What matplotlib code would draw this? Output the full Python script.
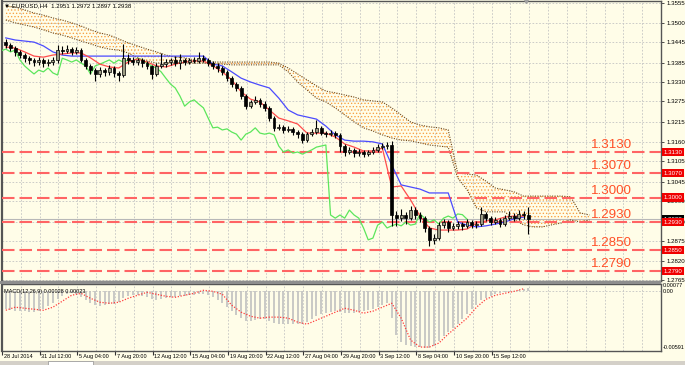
import numpy as np
import matplotlib
matplotlib.use('Agg')
import matplotlib.pyplot as plt
from matplotlib.patches import Rectangle
import matplotlib.transforms as mtrans

plt.rcParams['font.family'] = ['Liberation Sans', 'DejaVu Sans']
plt.rcParams['hatch.linewidth'] = 0.55

# ---------------- data (one candle = 8 hours, EURUSD) ----------------
opens = [1.3445, 1.3436, 1.3427, 1.3416, 1.3407, 1.3398, 1.3393, 1.3387, 1.3393, 1.3384,
         1.3387, 1.3393, 1.3421, 1.3419, 1.3424, 1.3416, 1.3421, 1.3393, 1.3376, 1.3364,
         1.3353, 1.3364, 1.3359, 1.3370, 1.3356, 1.3350, 1.3398, 1.3393, 1.3387, 1.3393,
         1.3384, 1.3376, 1.3353, 1.3376, 1.3381, 1.3387, 1.3393, 1.3384, 1.3393, 1.3387,
         1.3393, 1.3390, 1.3398, 1.3393, 1.3384, 1.3376, 1.3370, 1.3359, 1.3341, 1.3324,
         1.3313, 1.3290, 1.3261, 1.3273, 1.3279, 1.3267, 1.3256, 1.3227, 1.3199, 1.3201,
         1.3193, 1.3196, 1.3187, 1.3181, 1.3164, 1.3181, 1.3187, 1.3199, 1.3184, 1.3181,
         1.3184, 1.3179, 1.3147, 1.3130, 1.3136, 1.3127, 1.3130, 1.3124, 1.3130, 1.3136,
         1.3144, 1.3147, 1.3150, 1.2950, 1.2941, 1.2950, 1.2941, 1.2964, 1.2950, 1.2941,
         1.2913, 1.2879, 1.2884, 1.2921, 1.2930, 1.2913, 1.2919, 1.2924, 1.2919, 1.2930,
         1.2921, 1.2924, 1.2953, 1.2941, 1.2930, 1.2936, 1.2924, 1.2941, 1.2947, 1.2941,
         1.2953, 1.2951]
highs = [1.3452, 1.3441, 1.3432, 1.3422, 1.3413, 1.3405, 1.3400, 1.3402, 1.3398, 1.3395,
         1.3401, 1.3435, 1.3432, 1.3436, 1.3430, 1.3431, 1.3426, 1.3399, 1.3382, 1.3370,
         1.3372, 1.3370, 1.3378, 1.3375, 1.3362, 1.3438, 1.3410, 1.3402, 1.3400, 1.3398,
         1.3390, 1.3380, 1.3384, 1.3412, 1.3396, 1.3400, 1.3404, 1.3410, 1.3400, 1.3399,
         1.3401, 1.3415, 1.3406, 1.3398, 1.3390, 1.3383, 1.3376, 1.3365, 1.3347, 1.3330,
         1.3318, 1.3295, 1.3280, 1.3290, 1.3285, 1.3275, 1.3262, 1.3232, 1.3210, 1.3208,
         1.3205, 1.3202, 1.3192, 1.3186, 1.3188, 1.3195, 1.3222, 1.3204, 1.3190, 1.3192,
         1.3190, 1.3183, 1.3152, 1.3145, 1.3142, 1.3138, 1.3136, 1.3137, 1.3144, 1.3152,
         1.3155, 1.3160, 1.3162, 1.2962, 1.2966, 1.2958, 1.2975, 1.2972, 1.2958, 1.2946,
         1.2918, 1.2896, 1.2930, 1.2940, 1.2936, 1.2928, 1.2932, 1.2930, 1.2938, 1.2936,
         1.2932, 1.2972, 1.2960, 1.2946, 1.2944, 1.2942, 1.2950, 1.2962, 1.2955, 1.2965,
         1.2962, 1.2972]
lows = [1.3428, 1.3418, 1.3405, 1.3398, 1.3388, 1.3382, 1.3376, 1.3380, 1.3373, 1.3376,
        1.3378, 1.3385, 1.3410, 1.3412, 1.3408, 1.3410, 1.3386, 1.3367, 1.3352, 1.3334,
        1.3345, 1.3348, 1.3350, 1.3344, 1.3333, 1.3345, 1.3382, 1.3378, 1.3380, 1.3374,
        1.3366, 1.3340, 1.3348, 1.3370, 1.3372, 1.3380, 1.3376, 1.3366, 1.3380, 1.3381,
        1.3383, 1.3385, 1.3386, 1.3376, 1.3368, 1.3360, 1.3350, 1.3332, 1.3316, 1.3304,
        1.3282, 1.3252, 1.3255, 1.3268, 1.3260, 1.3246, 1.3218, 1.3190, 1.3192, 1.3185,
        1.3186, 1.3180, 1.3170, 1.3156, 1.3160, 1.3176, 1.3182, 1.3178, 1.3174, 1.3176,
        1.3170, 1.3130, 1.3118, 1.3124, 1.3116, 1.3120, 1.3115, 1.3118, 1.3125, 1.3130,
        1.3138, 1.3139, 1.2920, 1.2918, 1.2932, 1.2925, 1.2935, 1.2940, 1.2930, 1.2902,
        1.2862, 1.2868, 1.2878, 1.2912, 1.2902, 1.2906, 1.2910, 1.2908, 1.2912, 1.2912,
        1.2914, 1.2918, 1.2932, 1.2922, 1.2925, 1.2916, 1.2918, 1.2935, 1.2933, 1.2935,
        1.2940, 1.2897]
closes = [1.3436, 1.3427, 1.3416, 1.3407, 1.3398, 1.3393, 1.3387, 1.3393, 1.3384, 1.3387,
          1.3393, 1.3421, 1.3419, 1.3424, 1.3416, 1.3421, 1.3393, 1.3376, 1.3364, 1.3353,
          1.3364, 1.3359, 1.3370, 1.3356, 1.3350, 1.3398, 1.3393, 1.3387, 1.3393, 1.3384,
          1.3376, 1.3353, 1.3376, 1.3381, 1.3387, 1.3393, 1.3384, 1.3393, 1.3387, 1.3393,
          1.3390, 1.3398, 1.3393, 1.3384, 1.3376, 1.3370, 1.3359, 1.3341, 1.3324, 1.3313,
          1.3290, 1.3261, 1.3273, 1.3279, 1.3267, 1.3256, 1.3227, 1.3199, 1.3201, 1.3193,
          1.3196, 1.3187, 1.3181, 1.3164, 1.3181, 1.3187, 1.3199, 1.3184, 1.3181, 1.3184,
          1.3179, 1.3147, 1.3130, 1.3136, 1.3127, 1.3130, 1.3124, 1.3130, 1.3136, 1.3144,
          1.3147, 1.3150, 1.2950, 1.2941, 1.2950, 1.2941, 1.2964, 1.2950, 1.2941, 1.2913,
          1.2879, 1.2884, 1.2921, 1.2930, 1.2913, 1.2919, 1.2924, 1.2919, 1.2930, 1.2921,
          1.2924, 1.2953, 1.2941, 1.2930, 1.2936, 1.2924, 1.2941, 1.2947, 1.2941, 1.2953,
          1.2951, 1.2938]

# Ichimoku lines, read every second candle
tenkan = [1.3430, 1.3427, 1.3416, 1.3404, 1.3401, 1.3407, 1.3410, 1.3413, 1.3413, 1.3399,
          1.3381, 1.3373, 1.3370, 1.3387, 1.3396, 1.3387, 1.3376, 1.3373, 1.3381, 1.3387,
          1.3390, 1.3390, 1.3376, 1.3359, 1.3336, 1.3302, 1.3281, 1.3273, 1.3250, 1.3227,
          1.3219, 1.3210, 1.3184, 1.3184, 1.3184, 1.3173, 1.3153, 1.3144, 1.3133, 1.3133,
          1.3141, 1.3030, 1.3033, 1.2993, 1.2947, 1.2913, 1.2907, 1.2907, 1.2907, 1.2910,
          1.2927, 1.2933, 1.2936, 1.2944, 1.2947, 1.2947]
kijun = [1.3456, 1.3450, 1.3447, 1.3444, 1.3433, 1.3416, 1.3407, 1.3404, 1.3404, 1.3404,
         1.3404, 1.3404, 1.3404, 1.3404, 1.3404, 1.3404, 1.3404, 1.3404, 1.3404, 1.3404,
         1.3404, 1.3404, 1.3381, 1.3376, 1.3359, 1.3341, 1.3330, 1.3321, 1.3313, 1.3284,
         1.3250, 1.3236, 1.3230, 1.3224, 1.3204, 1.3179, 1.3164, 1.3161, 1.3161, 1.3159,
         1.3153, 1.3093, 1.3036, 1.3030, 1.3024, 1.3013, 1.3013, 1.3013, 1.2930, 1.2921,
         1.2916, 1.2919, 1.2924, 1.2930, 1.2939, 1.2944]
span_a = [1.3547, 1.3544, 1.3536, 1.3527, 1.3521, 1.3513, 1.3507, 1.3499, 1.3490, 1.3479,
          1.3470, 1.3464, 1.3453, 1.3442, 1.3433, 1.3424, 1.3416, 1.3407, 1.3401, 1.3399,
          1.3393, 1.3387, 1.3387, 1.3387, 1.3387, 1.3387, 1.3387, 1.3387, 1.3387, 1.3384,
          1.3370, 1.3353, 1.3336, 1.3319, 1.3304, 1.3299, 1.3293, 1.3287, 1.3279, 1.3276,
          1.3273, 1.3256, 1.3236, 1.3216, 1.3207, 1.3202, 1.3199, 1.3193, 1.3070, 1.3067,
          1.3064, 1.3047, 1.3027, 1.3022, 1.3016, 1.3004, 1.3004, 1.3004, 1.3004, 1.3004,
          1.3002, 1.2956, 1.2950]
span_b = [1.3507, 1.3499, 1.3493, 1.3487, 1.3479, 1.3470, 1.3464, 1.3456, 1.3447, 1.3439,
          1.3430, 1.3424, 1.3421, 1.3413, 1.3399, 1.3390, 1.3384, 1.3384, 1.3384, 1.3384,
          1.3384, 1.3384, 1.3381, 1.3381, 1.3379, 1.3379, 1.3379, 1.3379, 1.3379, 1.3379,
          1.3359, 1.3330, 1.3307, 1.3284, 1.3273, 1.3256, 1.3236, 1.3216, 1.3199, 1.3190,
          1.3179, 1.3170, 1.3164, 1.3162, 1.3156, 1.3150, 1.3147, 1.3144, 1.3056, 1.3022,
          1.2970, 1.2959, 1.2959, 1.2959, 1.2936, 1.2922, 1.2916, 1.2916, 1.2922, 1.2927,
          1.2936, 1.2930, 1.2936]

# MACD(12,26,9)
macd_main = [-0.00179, -0.00189, -0.00198, -0.00198, -0.00198, -0.00208, -0.00208, -0.00198, -0.00179, -0.00149,
             -0.00120, -0.00081, -0.00051, -0.00031, -0.00022, -0.00031, -0.00061, -0.00090, -0.00120, -0.00139,
             -0.00149, -0.00139, -0.00130, -0.00130, -0.00110, -0.00071, -0.00051, -0.00041, -0.00041, -0.00051,
             -0.00061, -0.00081, -0.00090, -0.00081, -0.00071, -0.00061, -0.00061, -0.00051, -0.00051, -0.00041,
             -0.00041, -0.00031, -0.00031, -0.00041, -0.00061, -0.00090, -0.00120, -0.00159, -0.00198, -0.00238,
             -0.00267, -0.00297, -0.00297, -0.00287, -0.00277, -0.00277, -0.00297, -0.00316, -0.00326, -0.00326,
             -0.00326, -0.00326, -0.00326, -0.00326, -0.00306, -0.00277, -0.00248, -0.00228, -0.00218, -0.00208,
             -0.00198, -0.00208, -0.00218, -0.00218, -0.00218, -0.00208, -0.00198, -0.00189, -0.00179, -0.00159,
             -0.00139, -0.00120, -0.00267, -0.00434, -0.00503, -0.00532, -0.00542, -0.00552, -0.00552, -0.00562,
             -0.00562, -0.00542, -0.00493, -0.00444, -0.00405, -0.00365, -0.00326, -0.00277, -0.00228, -0.00179,
             -0.00139, -0.00090, -0.00071, -0.00051, -0.00031, -0.00022, -0.00012, -0.00012, -0.00002, 0.00008,
             0.00018, 0.00028]
macd_signal = [-0.00189, -0.00159, -0.00169, -0.00179, -0.00189, -0.00159, -0.00100, -0.00041, -0.00022, -0.00071,
               -0.00110, -0.00120, -0.00110, -0.00071, -0.00041, -0.00012, -0.00031, -0.00051, -0.00061, -0.00041,
               -0.00022, 0.00008, -0.00002, -0.00031, -0.00139, -0.00208, -0.00248, -0.00267, -0.00257, -0.00257,
               -0.00267, -0.00306, -0.00326, -0.00287, -0.00248, -0.00208, -0.00169, -0.00189, -0.00218, -0.00198,
               -0.00159, -0.00120, -0.00267, -0.00483, -0.00552, -0.00552, -0.00513, -0.00424, -0.00346, -0.00267,
               -0.00159, -0.00081, -0.00041, -0.00022, -0.00002, 0.00023]

levels = [1.3130, 1.3070, 1.3000, 1.2930, 1.2850, 1.2790]
bid = 1.2938
price_ticks = [1.3555, 1.3500, 1.3445, 1.3385, 1.3330, 1.3275, 1.3215, 1.3160,
               1.3105, 1.3045, 1.2990, 1.2930, 1.2875, 1.2820, 1.2765]
date_labels = ['28 Jul 2014', '31 Jul 12:00', '5 Aug 04:00', '7 Aug 20:00', '12 Aug 12:00',
               '15 Aug 04:00', '19 Aug 20:00', '22 Aug 12:00', '27 Aug 04:00', '29 Aug 20:00',
               '3 Sep 12:00', '8 Sep 04:00', '10 Sep 20:00', '15 Sep 12:00']
title = '\u25BC EURUSD,H4  1.2951 1.2972 1.2897 1.2938'
macd_title = 'MACD(12,26,9) 0.00028 0.00023'

# ---------------- layout ----------------
W, H = 685, 365
BG = '#FFFDE8'
SMALL = 4.0
fig = plt.figure(figsize=(W / 100, H / 100), dpi=100)
fig.patch.set_facecolor(BG)

def fr(x0, y0, x1, y1):
    return [x0 / W, 1 - y1 / H, (x1 - x0) / W, (y1 - y0) / H]

ax = fig.add_axes(fr(2, 1, 661, 281))
axm = fig.add_axes(fr(2, 284, 661, 351))
for a in (ax, axm):
    a.set_facecolor(BG)
    for s in a.spines.values():
        s.set_color('#555555')
        s.set_linewidth(1.0)
    a.spines['left'].set_linewidth(1.6)

XL = (-0.5, 138.97)
ax.set_xlim(*XL)
axm.set_xlim(*XL)
ax.set_ylim(1.276143, 1.356143)
axm.set_ylim(-0.00591, 0.00070)

n = len(closes)
xs = np.arange(n)
o = np.array(opens); h = np.array(highs); l = np.array(lows); c = np.array(closes)

# grid
grid_major = np.arange(len(date_labels)) * 8 - 0.8
grid_minor = np.arange(0, 36) * 4 - 0.8
gkw = dict(color='#C4C4C4', lw=0.6, ls=(0, (2, 2)))
for a in (ax, axm):
    a.set_xticks(grid_major)
    a.set_xticks(grid_minor, minor=True)
    a.grid(True, which='both', axis='x', **gkw)
ax.set_yticks(price_ticks)
ax.grid(True, which='major', axis='y', **gkw)
ax.tick_params(axis='x', which='both', length=0, labelbottom=False)
axm.tick_params(axis='x', which='major', length=3, width=0.8, color='#333333', labelbottom=False)
axm.tick_params(axis='x', which='minor', length=0)
ax.yaxis.tick_right()
ax.tick_params(axis='y', length=2.5, width=0.6, color='#333333', pad=1.2, labelsize=4.4)
axm.set_yticks([])
axm.axhline(0, **gkw)

# cloud
xc = np.arange(len(span_a)) * 2
ax.fill_between(xc, span_a, span_b, facecolor='none', edgecolor='#F9A040', hatch='.....', lw=0, zorder=2)
ax.plot(xc, span_a, ls=(0, (1, 1.2)), color='#6E4A1E', lw=0.8, zorder=3)
ax.plot(xc, span_b, ls=(0, (1, 1.2)), color='#6E4A1E', lw=0.8, zorder=3)

# levels and bid line
ax.axhline(bid, color='#B8B8B8', lw=0.8, zorder=2.5)
for lv in levels:
    ax.axhline(lv, color='#FF6464', lw=1.5, ls=(0, (6.0, 2.4)), zorder=3)
    ax.text(124.4, lv + 0.0019, f'{lv:.4f}', color='#FF5028', fontsize=9.6, ha='left', va='center', zorder=8)

# Ichimoku lines
xt = np.arange(len(tenkan)) * 2
ax.plot(xs - 13, c, color='#5CE65C', lw=0.9, zorder=4)
ax.plot(xt, kijun, color='#4B4BFF', lw=0.9, zorder=4)
ax.plot(xt, tenkan, color='#FF4C4C', lw=0.9, zorder=4)

# candles
up = c >= o
bot = np.minimum(o, c)
bh = np.maximum(np.abs(c - o), 0.00008)
ax.vlines(xs, l, h, color='black', lw=0.8, zorder=5)
ax.bar(xs[up], bh[up], bottom=bot[up], width=0.6, color='#9C9C84', edgecolor='black', lw=0.5, zorder=6)
ax.bar(xs[~up], bh[~up], bottom=bot[~up], width=0.6, color='black', edgecolor='black', lw=0.5, zorder=6)

# title
ax.text(0.003, 0.992, title, transform=ax.transAxes, fontsize=4.4, va='top', ha='left', zorder=9)
ax.plot([110.5], [1.356143], marker='v', ms=3, color='#A0A0A0', clip_on=False, zorder=9)

# right price tags
yt = ax.get_yaxis_transform()
ax.text(1.004, bid, f'{bid:.4f}', transform=yt, fontsize=4.4, color='white', ha='left', va='center',
        bbox=dict(boxstyle='square,pad=0.25', fc='black', ec='none'), clip_on=False, zorder=10)
for lv in levels:
    ax.text(1.004, lv, f'{lv:.4f}', transform=yt, fontsize=4.4, color='white', ha='left', va='center',
            bbox=dict(boxstyle='square,pad=0.25', fc='#F00000', ec='none'), clip_on=False, zorder=11)

# MACD
axm.vlines(xs, 0, macd_main, color='#C0C0C0', lw=1.2, zorder=2)
xsig = np.arange(len(macd_signal)) * 2
axm.plot(xsig, macd_signal, color='#FF3C3C', lw=0.9, ls=(0, (1, 1.3)), zorder=3)
axm.text(0.003, 0.93, macd_title, transform=axm.transAxes, fontsize=SMALL, va='top', ha='left')
mt = axm.get_yaxis_transform()
axm.text(1.002, 0.00058, '0.00077', transform=mt, fontsize=SMALL, ha='left', va='center', clip_on=False)
axm.text(1.002, 0.0000, '0.00', transform=mt, fontsize=SMALL, ha='left', va='center', clip_on=False)
axm.text(1.002, -0.00552, '-0.00591', transform=mt, fontsize=SMALL, ha='left', va='center', clip_on=False)

# date labels
bt = mtrans.blended_transform_factory(axm.transData, axm.transAxes)
for i, lab in enumerate(date_labels):
    axm.text(grid_major[i] + 0.35, -0.05, lab, transform=bt, fontsize=SMALL, ha='left', va='top', clip_on=False)

# separators / bottom tab strip
fig.patches.append(Rectangle((0, 1 - 284 / H), 661 / W, 3 / H, transform=fig.transFigure,
                             fc='#8E8E8E', ec='none', zorder=0))
fig.patches.append(Rectangle((0, 0), 1, 4 / H, transform=fig.transFigure, fc='#D4D0C8', ec='none'))
fig.patches.append(Rectangle((48 / W, 0), 45 / W, 4 / H, transform=fig.transFigure, fc='#FFFFFF', ec='#909090', lw=0.5))

fig.savefig('out.png', dpi=100, facecolor=BG)
